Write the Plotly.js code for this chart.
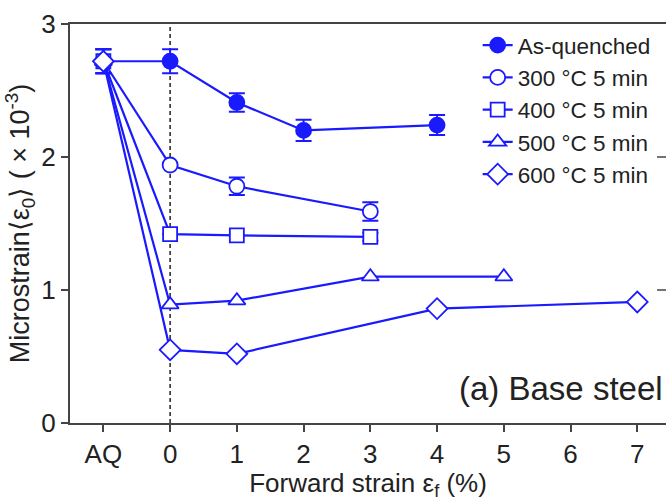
<!DOCTYPE html>
<html>
<head>
<meta charset="utf-8">
<script src="https://cdn.plot.ly/plotly-3.0.1.min.js"></script>
<style>html,body{margin:0;padding:0;background:#fff;}</style>
</head>
<body>
<div id="chart" style="width:666px;height:501px;"></div>
<script>
// x positions: -1 = AQ, 0..7 = forward strain (%)
const tickVals = [-1, 0, 1, 2, 3, 4, 5, 6, 7];
const tickText = ['AQ', '0', '1', '2', '3', '4', '5', '6', '7'];

const seriesNames = ['As-quenched', '300 °C 5 min', '400 °C 5 min', '500 °C 5 min', '600 °C 5 min'];

const xAsQ = [-1, 0, 1, 2, 4];
const yAsQ = [2.72, 2.72, 2.41, 2.20, 2.24];
const eAsQ = [0.09, 0.09, 0.07, 0.08, 0.075];

const x300 = [-1, 0, 1, 3];
const y300 = [2.72, 1.94, 1.78, 1.59];
const e300 = [0.09, 0.0, 0.065, 0.07];

const x400 = [-1, 0, 1, 3];
const y400 = [2.72, 1.42, 1.41, 1.40];
const e400 = [0.09, 0.0, 0.0, 0.03];

const x500 = [-1, 0, 1, 3, 5];
const y500 = [2.72, 0.89, 0.92, 1.10, 1.10];

const x600 = [-1, 0, 1, 4, 7];
const y600 = [2.72, 0.55, 0.52, 0.86, 0.91];

const blue = '#1a1aff';
const lineW = 2.2;

function tr(name, x, y, err, symbol, filled, size) {
  const t = {
    type: 'scatter', mode: 'lines+markers', name: name, x: x, y: y,
    line: {color: blue, width: lineW},
    marker: {symbol: symbol, size: size,
             color: filled ? blue : '#ffffff', line: {color: blue, width: 1.8}},
    cliponaxis: false
  };
  if (err) {
    t.error_y = {type: 'data', array: err, visible: true, color: blue, thickness: 2, width: 8};
  }
  return t;
}

const data = [
  tr(seriesNames[0], xAsQ, yAsQ, eAsQ, 'circle', true, 15),
  tr(seriesNames[1], x300, y300, e300, 'circle', false, 15),
  tr(seriesNames[2], x400, y400, e400, 'square', false, 14),
  tr(seriesNames[3], x500, y500, null, 'triangle-up', false, 15),
  tr(seriesNames[4], x600, y600, null, 'diamond', false, 16)
];

const fontFam = 'Liberation Sans, Arial, sans-serif';

const layout = {
  width: 666, height: 501,
  margin: {l: 70, r: 0, t: 24, b: 78},
  paper_bgcolor: '#ffffff', plot_bgcolor: '#ffffff',
  font: {family: fontFam, color: '#222222'},
  showlegend: true,
  legend: {
    x: 0.684, y: 1.0, xanchor: 'left', yanchor: 'top',
    font: {size: 22.5, family: fontFam, color: '#222222'},
    bgcolor: 'rgba(0,0,0,0)', tracegroupgap: 0, itemwidth: 30
  },
  xaxis: {
    range: [-1.5, 7.43], tickmode: 'array', tickvals: tickVals, ticktext: tickText,
    showgrid: false, zeroline: false, showline: true, linecolor: '#444', linewidth: 2,
    mirror: true, ticks: 'outside', ticklen: 7, tickwidth: 2, tickcolor: '#444',
    tickfont: {size: 26, family: fontFam, color: '#222'},
    title: {text: 'Forward strain ε<sub>f</sub> (%)', font: {size: 26, family: fontFam, color: '#222'}, standoff: 6}
  },
  yaxis: {
    range: [0, 3], tickvals: [0, 1, 2, 3],
    showgrid: false, zeroline: false, showline: true, linecolor: '#444', linewidth: 2,
    ticks: 'outside', ticklen: 7, tickwidth: 2, tickcolor: '#444',
    tickfont: {size: 26, family: fontFam, color: '#222'},
    title: {text: 'Microstrain⟨ε<sub>0</sub>⟩ ( × 10<sup>-3</sup>)', font: {size: 27, family: fontFam, color: '#222'}, standoff: 4}
  },
  shapes: [
    {type: 'line', xref: 'x', yref: 'y', x0: 0, x1: 0, y0: 0, y1: 3,
     line: {color: '#222', width: 1.5, dash: '4px,3px'}, layer: 'below'},
    {type: 'line', xref: 'paper', yref: 'y', x0: 0.985, x1: 1, y0: 1, y1: 1, line: {color: '#444', width: 1.5}},
    {type: 'line', xref: 'paper', yref: 'y', x0: 0.985, x1: 1, y0: 2, y1: 2, line: {color: '#444', width: 1.5}}
  ],
  annotations: [
    {xref: 'paper', yref: 'paper', x: 0.998, y: 0.035, xanchor: 'right', yanchor: 'bottom',
     text: '(a) Base steel', showarrow: false, font: {size: 33, family: fontFam, color: '#222'}}
  ]
};

Plotly.newPlot('chart', data, layout, {displayModeBar: false, staticPlot: true});
</script>
</body>
</html>
